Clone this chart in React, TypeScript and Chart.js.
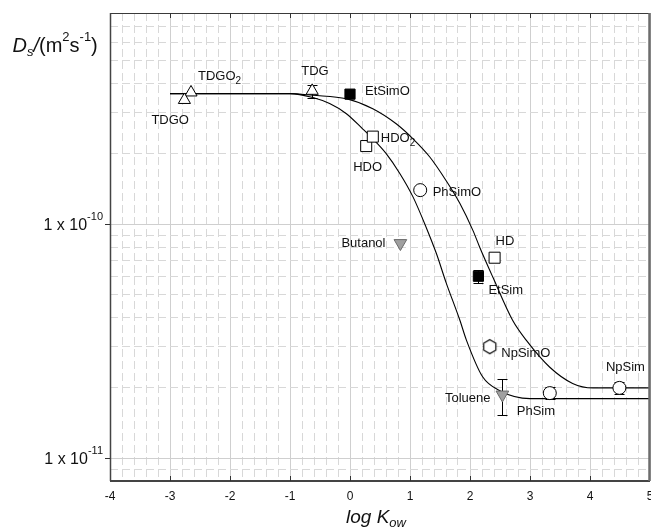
import React, { useEffect, useRef } from 'react';
import { Chart, registerables } from 'chart.js';
Chart.register(...registerables);

// ---------- data ----------
const pointNames = ['TDGO', 'TDGO2', 'TDG', 'EtSimO', 'HDO2', 'HDO', 'PhSimO', 'Butanol', 'HD', 'EtSim', 'NpSimO', 'Toluene', 'PhSim', 'NpSim'];
const pointLogKow = [-2.76, -2.65, -0.63, 0.0, 0.38, 0.27, 1.17, 0.84, 2.41, 2.14, 2.33, 2.54, 3.33, 4.49];
const pointDs = [3.40e-10, 3.66e-10, 3.72e-10, 3.60e-10, 2.37e-10, 2.16e-10, 1.40e-10, 8.3e-11, 7.2e-11, 6.0e-11, 3.0e-11, 1.87e-11, 1.90e-11, 2.0e-11];
const errorLow: (number | null)[] = [null, null, 3.47e-10, null, null, null, null, null, null, 5.63e-11, null, 1.53e-11, 1.79e-11, 1.88e-11];
const errorHigh: (number | null)[] = [null, null, 3.95e-10, null, null, null, null, null, null, 6.4e-11, null, 2.18e-11, 2.02e-11, 2.12e-11];

// fitted curves
const curveALogKow = [-3, -1.0, -0.62, -0.34, -0.06, 0.21, 0.38, 0.60, 0.83, 1.05, 1.27, 1.44, 1.60, 1.83, 1.94, 2.21, 2.49, 3.0, 5.0];
const curveADs = [3.62e-10, 3.62e-10, 3.48e-10, 3.28e-10, 2.97e-10, 2.56e-10, 2.32e-10, 2.01e-10, 1.65e-10, 1.31e-10, 9.7e-11, 7.5e-11, 5.65e-11, 3.9e-11, 3.2e-11, 2.23e-11, 1.95e-11, 1.80e-11, 1.80e-11];
const curveBLogKow = [-3, -1.0, -0.62, -0.06, 0.38, 0.77, 1.05, 1.33, 1.60, 1.83, 2.05, 2.16, 2.38, 2.71, 2.94, 3.33, 3.71, 4.05, 5.0];
const curveBDs = [3.62e-10, 3.62e-10, 3.56e-10, 3.44e-10, 3.12e-10, 2.69e-10, 2.32e-10, 1.94e-10, 1.54e-10, 1.23e-10, 9.4e-11, 8.0e-11, 5.95e-11, 3.89e-11, 3.19e-11, 2.45e-11, 2.09e-11, 2.0e-11, 2.0e-11];

// axes
const xMin = -4;
const xMax = 5;
const xTickStep = 0.2;
const yMin = 8e-12;
const yMax = 8e-10;
const yGridValues = [
  9e-12,
  1e-11, 2e-11, 3e-11, 4e-11, 5e-11, 6e-11, 7e-11, 8e-11, 9e-11,
  1e-10, 2e-10, 3e-10, 4e-10, 5e-10, 6e-10, 7e-10,
];
const yLabelValues = [1e-10, 1e-11];
const yLabelMantissa = ['1 x 10', '1 x 10'];
const yLabelExponents = ['-10', '-11'];

// ---------- styles ----------
type MStyle = { style: any; r: number; fill: string; stroke: string; rot: number };
const markerStyles: Record<string, MStyle> = {
  TDGO: { style: 'triangle', r: 7, fill: '#ffffff', stroke: '#000000', rot: 0 },
  TDGO2: { style: 'triangle', r: 7, fill: '#ffffff', stroke: '#000000', rot: 0 },
  TDG: { style: 'triangle', r: 7, fill: '#ffffff', stroke: '#000000', rot: 0 },
  EtSimO: { style: 'rect', r: 7.2, fill: '#000000', stroke: '#000000', rot: 0 },
  HDO2: { style: 'rect', r: 7.8, fill: '#ffffff', stroke: '#000000', rot: 0 },
  HDO: { style: 'rect', r: 7.8, fill: '#ffffff', stroke: '#000000', rot: 0 },
  PhSimO: { style: 'circle', r: 6.5, fill: '#ffffff', stroke: '#000000', rot: 0 },
  Butanol: { style: 'triangle', r: 7.3, fill: '#a0a0a0', stroke: '#6a6a6a', rot: 180 },
  HD: { style: 'rect', r: 7.8, fill: '#ffffff', stroke: '#000000', rot: 0 },
  EtSim: { style: 'rect', r: 7.2, fill: '#000000', stroke: '#000000', rot: 0 },
  NpSimO: { style: 'hexagon', r: 7, fill: '#ffffff', stroke: '#000000', rot: 0 },
  Toluene: { style: 'triangle', r: 7.3, fill: '#a0a0a0', stroke: '#6a6a6a', rot: 180 },
  PhSim: { style: 'circle', r: 6.5, fill: '#ffffff', stroke: '#000000', rot: 0 },
  NpSim: { style: 'circle', r: 6.5, fill: '#ffffff', stroke: '#000000', rot: 0 },
};

// label placement relative to the point pixel (left edge, baseline)
const labelLayout: Record<string, { text: string; sub?: string; dx: number; dy: number }> = {
  TDGO: { text: 'TDGO', dx: -33, dy: 24 },
  TDGO2: { text: 'TDGO', sub: '2', dx: 7, dy: -12 },
  TDG: { text: 'TDG', dx: -11, dy: -16 },
  EtSimO: { text: 'EtSimO', dx: 15, dy: 1 },
  HDO2: { text: 'HDO', sub: '2', dx: 8, dy: 5 },
  HDO: { text: 'HDO', dx: -13, dy: 25 },
  PhSimO: { text: 'PhSimO', dx: 12.5, dy: 5.5 },
  Butanol: { text: 'Butanol', dx: -59, dy: 4 },
  HD: { text: 'HD', dx: 1, dy: -13 },
  EtSim: { text: 'EtSim', dx: 10, dy: 17.5 },
  NpSimO: { text: 'NpSimO', dx: 11.5, dy: 10.5 },
  Toluene: { text: 'Toluene', dx: -57.5, dy: 7 },
  PhSim: { text: 'PhSim', dx: -33, dy: 21.5 },
  NpSim: { text: 'NpSim', dx: -13.5, dy: -16.5 },
};

const FONT = "'Liberation Sans', Arial, Helvetica, sans-serif";

const isInt = (v: number) => Math.abs(v - Math.round(v)) < 1e-6;
const isDecade = (v: number) => {
  const l = Math.log10(v);
  return Math.abs(l - Math.round(l)) < 1e-6;
};

type Part = { t: string; size: number; italic?: boolean; dy?: number };
function drawRich(ctx: CanvasRenderingContext2D, x: number, y: number, parts: Part[], align: 'left' | 'right' = 'left') {
  const widths = parts.map((p) => {
    ctx.font = `${p.italic ? 'italic ' : ''}${p.size}px ${FONT}`;
    return ctx.measureText(p.t).width;
  });
  const total = widths.reduce((a, b) => a + b, 0);
  let cx = align === 'right' ? x - total : x;
  ctx.textAlign = 'left';
  ctx.textBaseline = 'alphabetic';
  parts.forEach((p, i) => {
    ctx.font = `${p.italic ? 'italic ' : ''}${p.size}px ${FONT}`;
    ctx.fillText(p.t, cx, y + (p.dy || 0));
    cx += widths[i];
  });
}

function makeHexagon(r: number, fill: string, stroke: string) {
  const size = 2 * Math.ceil(r + 2) + 1;
  const c = document.createElement('canvas');
  c.width = size;
  c.height = size;
  const g = c.getContext('2d')!;
  const cx = size / 2;
  const cy = size / 2;
  g.beginPath();
  for (let k = 0; k < 6; k++) {
    const a = (Math.PI / 3) * k - Math.PI / 2;
    const px = cx + r * Math.cos(a);
    const py = cy + r * Math.sin(a);
    if (k === 0) g.moveTo(px, py);
    else g.lineTo(px, py);
  }
  g.closePath();
  g.fillStyle = fill;
  g.fill();
  g.lineWidth = 1.2;
  g.strokeStyle = stroke;
  g.stroke();
  return c;
}

const overlayPlugin = {
  id: 'overlay',
  beforeDatasetsDraw(chart: any) {
    const { ctx, scales } = chart;
    const x = scales.x;
    const y = scales.y;
    ctx.save();
    ctx.strokeStyle = '#000';
    ctx.lineWidth = 1;
    pointNames.forEach((_n, i) => {
      const lo = errorLow[i];
      const hi = errorHigh[i];
      if (lo == null || hi == null) return;
      const px = Math.round(x.getPixelForValue(pointLogKow[i])) + 0.5;
      const p1 = Math.round(y.getPixelForValue(hi)) + 0.5;
      const p2 = Math.round(y.getPixelForValue(lo)) + 0.5;
      ctx.beginPath();
      ctx.moveTo(px, p1);
      ctx.lineTo(px, p2);
      ctx.moveTo(px - 5, p1);
      ctx.lineTo(px + 5, p1);
      ctx.moveTo(px - 5, p2);
      ctx.lineTo(px + 5, p2);
      ctx.stroke();
    });
    ctx.restore();
  },
  afterDraw(chart: any) {
    const { ctx, chartArea, scales } = chart;
    const x = scales.x;
    const y = scales.y;
    const { left, right, top, bottom } = chartArea;
    ctx.save();

    // frame
    ctx.strokeStyle = '#3a3a3a';
    ctx.lineWidth = 1;
    ctx.beginPath();
    ctx.moveTo(left, top + 0.5);
    ctx.lineTo(right, top + 0.5);
    ctx.stroke();
    ctx.lineWidth = 1.5;
    ctx.strokeStyle = '#444';
    ctx.beginPath();
    ctx.moveTo(left + 0.5, top);
    ctx.lineTo(left + 0.5, bottom);
    ctx.stroke();
    ctx.lineWidth = 2;
    ctx.beginPath();
    ctx.moveTo(left, bottom);
    ctx.lineTo(right, bottom);
    ctx.stroke();
    ctx.strokeStyle = '#6d6d6d';
    ctx.lineWidth = 2.5;
    ctx.beginPath();
    ctx.moveTo(right - 0.5, top);
    ctx.lineTo(right - 0.5, bottom);
    ctx.stroke();

    // tick marks
    ctx.strokeStyle = '#333';
    ctx.lineWidth = 1;
    ctx.beginPath();
    for (let v = xMin + 1; v < xMax; v++) {
      const px = Math.round(x.getPixelForValue(v)) + 0.5;
      ctx.moveTo(px, bottom);
      ctx.lineTo(px, bottom - 5);
      ctx.moveTo(px, top);
      ctx.lineTo(px, top + 5);
    }
    yLabelValues.forEach((v) => {
      const py = Math.round(y.getPixelForValue(v)) + 0.5;
      ctx.moveTo(left, py);
      ctx.lineTo(left - 5, py);
    });
    ctx.stroke();

    // y tick labels
    ctx.fillStyle = '#111';
    yLabelValues.forEach((v, i) => {
      const py = y.getPixelForValue(v);
      drawRich(ctx, left - 7, py + 5.5, [
        { t: yLabelMantissa[i], size: 16 },
        { t: yLabelExponents[i], size: 11, dy: -9.5 },
      ], 'right');
    });

    // axis titles
    drawRich(ctx, 12.5, 52, [
      { t: 'D', size: 20, italic: true },
      { t: 's', size: 13, italic: true, dy: 4 },
      { t: '/', size: 20, italic: true },
      { t: '(m', size: 20 },
      { t: '2', size: 13, dy: -11 },
      { t: 's', size: 20 },
      { t: '-1', size: 13, dy: -11 },
      { t: ')', size: 20 },
    ]);
    drawRich(ctx, 346, 523, [
      { t: 'log K', size: 19, italic: true },
      { t: 'ow', size: 13, italic: true, dy: 4 },
    ]);

    // point labels
    ctx.fillStyle = '#111';
    pointNames.forEach((n, i) => {
      const lab = labelLayout[n];
      if (!lab) return;
      const px = x.getPixelForValue(pointLogKow[i]);
      const py = y.getPixelForValue(pointDs[i]);
      const parts: Part[] = [{ t: lab.text, size: 13 }];
      if (lab.sub) parts.push({ t: lab.sub, size: 10, dy: 4 });
      drawRich(ctx, px + lab.dx, py + lab.dy, parts);
    });

    ctx.restore();
  },
};

export default function App() {
  const ref = useRef<HTMLCanvasElement | null>(null);
  useEffect(() => {
    if (!ref.current) return;
    const hex = makeHexagon(7, '#ffffff', '#000000');

    const pointSets = pointNames.map((n, i) => {
      const s = markerStyles[n];
      return {
        label: n,
        type: 'scatter' as const,
        data: [{ x: pointLogKow[i], y: pointDs[i] }],
        pointStyle: s.style === 'hexagon' ? hex : s.style,
        pointRadius: s.r,
        pointRotation: s.rot,
        pointBackgroundColor: s.fill,
        pointBorderColor: s.stroke,
        pointBorderWidth: 1,
        showLine: false,
        order: 1,
      };
    });

    const curveSet = (xs: number[], ys: number[], label: string) => ({
      label,
      type: 'scatter' as const,
      data: xs.map((v, i) => ({ x: v, y: ys[i] })),
      showLine: true,
      borderColor: '#000',
      borderWidth: 1.1,
      pointRadius: 0,
      pointHoverRadius: 0,
      cubicInterpolationMode: 'monotone' as const,
      fill: false,
      order: 2,
    });

    const chart = new Chart(ref.current, {
      type: 'scatter',
      data: {
        datasets: [
          curveSet(curveALogKow, curveADs, 'fit A'),
          curveSet(curveBLogKow, curveBDs, 'fit B'),
          ...pointSets,
        ] as any,
      },
      options: {
        animation: false,
        responsive: false,
        maintainAspectRatio: false,
        events: [],
        layout: { autoPadding: false, padding: { top: 13, right: 1, left: 0, bottom: 0 } },
        plugins: {
          legend: { display: false },
          tooltip: { enabled: false },
        },
        scales: {
          x: {
            type: 'linear',
            min: xMin,
            max: xMax,
            afterFit: (s: any) => {
              s.height = 48;
              s.paddingLeft = 0;
              s.paddingRight = 0;
            },
            ticks: {
              stepSize: xTickStep,
              autoSkip: false,
              maxRotation: 0,
              padding: 8,
              color: '#111',
              font: { family: FONT, size: 12 },
              callback: (v: any) => (isInt(Number(v)) ? String(Math.round(Number(v))) : ''),
            },
            grid: {
              drawTicks: false,
              lineWidth: 1,
              color: (c: any) => (c.tick && isInt(c.tick.value) ? '#cfcfcf' : '#d8d8d8'),
            },
            border: {
              display: false,
              dash: (c: any) => (c.tick && isInt(c.tick.value) ? [] : [8, 4]),
            },
          },
          y: {
            type: 'logarithmic',
            min: yMin,
            max: yMax,
            afterFit: (s: any) => {
              s.width = 110;
              s.paddingTop = 0;
              s.paddingBottom = 0;
            },
            afterBuildTicks: (s: any) => {
              s.ticks = yGridValues.map((v) => ({ value: v, major: isDecade(v) }));
            },
            ticks: { display: false },
            grid: {
              drawTicks: false,
              lineWidth: 1,
              color: (c: any) => (c.tick && isDecade(c.tick.value) ? '#cfcfcf' : '#d8d8d8'),
            },
            border: {
              display: false,
              dash: (c: any) => (c.tick && isDecade(c.tick.value) ? [] : [8, 4]),
            },
          },
        },
      },
      plugins: [overlayPlugin],
    });
    return () => chart.destroy();
  }, []);

  return (
    <div style={{ position: 'absolute', left: 0, top: 0, width: 651, height: 529, background: '#fff' }}>
      <canvas ref={ref} width={651} height={529} style={{ display: 'block', width: 651, height: 529 }} />
    </div>
  );
}
